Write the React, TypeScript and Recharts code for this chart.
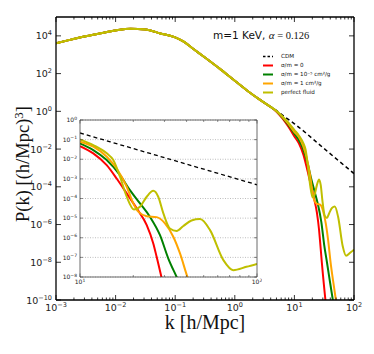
import { CartesianGrid, Legend, Line, LineChart, XAxis, YAxis } from "recharts";

// log10(k) / log10(P)
const sharedLogK = [-3, -2.75, -2.5, -2.25, -2, -1.75, -1.5, -1.25, -1, -0.85, -0.7, -0.5, -0.25, 0, 0.25, 0.4, 0.55];
const sharedLogP = [3.61, 3.8, 3.98, 4.14, 4.29, 4.38, 4.34, 4.13, 3.92, 3.68, 3.32, 2.85, 2.25, 1.62, 1.0, 0.66, 0.34];

const cdmLogK = [0.7, 0.85, 1, 1.5, 2];
const cdmLogP = [0.04, -0.32, -0.66, -1.98, -3.3];

const redLogK = [0.7, 0.8, 0.9, 1, 1.075, 1.151, 1.207, 1.264, 1.32, 1.377, 1.414, 1.433, 1.46, 1.54];
const redLogP = [-0.02, -0.38, -0.82, -1.33, -1.7, -2.3, -2.98, -3.74, -4.5, -5.36, -6.29, -6.97, -8, -10.6];

const greenLogK = [0.7, 0.8, 0.9, 1, 1.075, 1.151, 1.226, 1.282, 1.339, 1.395, 1.452, 1.499, 1.546, 1.6, 1.66];
const greenLogP = [0, -0.33, -0.72, -1.19, -1.53, -2.04, -2.81, -3.57, -4.25, -4.93, -5.87, -7.06, -8, -9.1, -10.3];

const orangeLogK = [0.7, 0.8, 0.9, 1, 1.075, 1.151, 1.207, 1.264, 1.301, 1.329, 1.377, 1.433, 1.48, 1.527, 1.565, 1.607, 1.65, 1.71];
const orangeLogP = [0.01, -0.3, -0.67, -1.1, -1.36, -1.87, -2.47, -3.4, -4.25, -4.67, -4.9, -4.95, -5.27, -5.95, -6.8, -8, -9, -10.3];

const fluidLogK = [0.7, 0.8, 0.9, 1, 1.075, 1.151, 1.188, 1.226, 1.264, 1.305, 1.339, 1.377, 1.414, 1.442, 1.471, 1.508, 1.546, 1.584, 1.63, 1.678, 1.734, 1.81, 1.866, 1.94, 2];
const fluidLogP = [0.02, -0.27, -0.6, -0.99, -1.28, -1.7, -2.04, -2.89, -3.91, -4.56, -4.42, -3.91, -3.61, -3.91, -4.76, -5.53, -5.65, -5.4, -5.12, -5.05, -5.6, -7.14, -7.65, -7.48, -7.33];

const xDecades = [1e-3, 1e-2, 1e-1, 1, 10, 100];
const minorMult = [2, 3, 4, 5, 6, 7, 8, 9];
const yMajor = [1e-10, 1e-8, 1e-6, 1e-4, 1e-2, 1, 1e2, 1e4];
const insetYTicks = [1e-8, 1e-7, 1e-6, 1e-5, 1e-4, 1e-3, 1e-2, 1e-1, 1];

const toPoints = (lk: number[], lp: number[]) => lk.map((v, i) => ({ k: 10 ** v, p: 10 ** lp[i] }));
const withShared = (lk: number[], lp: number[]) => [...toPoints(sharedLogK, sharedLogP), ...toPoints(lk, lp)];

const series = [
  { name: "CDM", color: "#000000", dash: "4 3", width: 1.5, data: withShared(cdmLogK, cdmLogP) },
  { name: "σ/m = 0", color: "#ff0000", width: 2, data: withShared(redLogK, redLogP) },
  { name: "σ/m = 10⁻⁵ cm²/g", color: "#008000", width: 2, data: withShared(greenLogK, greenLogP) },
  { name: "σ/m = 1 cm²/g", color: "#ffa500", width: 2, data: withShared(orangeLogK, orangeLogP) },
  { name: "perfect fluid", color: "#bfbf00", width: 2, data: withShared(fluidLogK, fluidLogP) },
];

const xTicks = [...xDecades, ...xDecades.slice(0, -1).flatMap((d) => minorMult.map((m) => d * m))];
const insetXTicks = [10, ...minorMult.map((m) => m * 10), 100];

const expOf = (v: number) => Math.log10(v);
const isDecade = (v: number) => Math.abs(expOf(v) - Math.round(expOf(v))) < 1e-6;
const expText = (v: number) => {
  const e = Math.round(expOf(v));
  return e < 0 ? `−${-e}` : `${e}`;
};

const FONT = "DejaVu Sans";

const BottomTick = ({ x, y, payload }: any) => {
  const major = isDecade(payload.value);
  return (
    <g>
      <line x1={x} x2={x} y1={y} y2={y - (major ? 5 : 2.5)} stroke="#000" strokeWidth={0.8} />
      {major && (
        <text x={x} y={y + 10.5} textAnchor="middle" fontSize={9.5} fontFamily={FONT} fill="#222">
          10<tspan dy={-4} fontSize={6.5}>{expText(payload.value)}</tspan>
        </text>
      )}
    </g>
  );
};

const TopTick = ({ x, y, payload }: any) => {
  const major = isDecade(payload.value);
  return <line x1={x} x2={x} y1={y} y2={y + (major ? 5 : 2.5)} stroke="#000" strokeWidth={0.8} />;
};

const LeftTick = ({ x, y, payload }: any) => (
  <g>
    <line x1={x} x2={x + 5} y1={y} y2={y} stroke="#000" strokeWidth={0.8} />
    <text x={x - 4} y={y + 3.5} textAnchor="end" fontSize={9.5} fontFamily={FONT} fill="#222">
      10<tspan dy={-4} fontSize={6.5}>{expText(payload.value)}</tspan>
    </text>
  </g>
);

const RightTick = ({ x, y }: any) => <line x1={x} x2={x - 5} y1={y} y2={y} stroke="#000" strokeWidth={0.8} />;

const InsetBottomTick = ({ x, y, payload }: any) => {
  const major = isDecade(payload.value);
  return (
    <g>
      <line x1={x} x2={x} y1={y} y2={y - (major ? 3.5 : 2)} stroke="#444" strokeWidth={0.6} />
      {major && (
        <text x={x} y={y + 7} textAnchor="middle" fontSize={6} fontFamily={FONT} fill="#222">
          10<tspan dy={-2.5} fontSize={4.5}>{expText(payload.value)}</tspan>
        </text>
      )}
    </g>
  );
};

const InsetTopTick = ({ x, y, payload }: any) => {
  const major = isDecade(payload.value);
  return <line x1={x} x2={x} y1={y} y2={y + (major ? 3.5 : 2)} stroke="#444" strokeWidth={0.6} />;
};

const InsetLeftTick = ({ x, y, payload }: any) => (
  <g>
    <line x1={x} x2={x + 3} y1={y} y2={y} stroke="#444" strokeWidth={0.6} />
    <text x={x - 3} y={y + 2.2} textAnchor="end" fontSize={6} fontFamily={FONT} fill="#222">
      10<tspan dy={-2.5} fontSize={4.5}>{expText(payload.value)}</tspan>
    </text>
  </g>
);

const InsetRightTick = ({ x, y }: any) => <line x1={x} x2={x - 3} y1={y} y2={y} stroke="#444" strokeWidth={0.6} />;

// legend rows in the figure's order (the library would sort them by name)
const LegendBox = () => (
  <div style={{ fontFamily: FONT, fontSize: 5.6, lineHeight: "9px", color: "#111" }}>
    {series.map((s) => (
      <div key={s.name} style={{ display: "flex", alignItems: "center", height: 9 }}>
        <svg width={18} height={9} style={{ flex: "none" }}>
          <line x1={0} x2={10} y1={4.5} y2={4.5} stroke={s.color} strokeWidth={s.dash ? 1.3 : 2} strokeDasharray={s.dash ? "2.5 2" : undefined} />
        </svg>
        <span style={{ whiteSpace: "nowrap" }}>{s.name}</span>
      </div>
    ))}
  </div>
);

const frame = { stroke: "#000", strokeWidth: 1.3 };
const insetFrame = { stroke: "#444", strokeWidth: 0.8 };
const noMargin = { top: 0, right: 0, bottom: 0, left: 0 };

export default function App() {
  const insetSeries = series.map((s) => ({ ...s, data: s.data.filter((d) => d.k >= 9.99) }));
  return (
    <div style={{ position: "absolute", left: 0, top: 0, width: 374, height: 354, background: "#fff" }}>
      <LineChart width={374} height={354} margin={noMargin}>
        <XAxis
          dataKey="k"
          type="number"
          scale="log"
          domain={[1e-3, 100]}
          allowDataOverflow
          ticks={xTicks}
          interval={0}
          height={54}
          tickSize={0}
          tickMargin={0}
          tickLine={false}
          axisLine={frame}
          tick={BottomTick}
        />
        <XAxis
          xAxisId="top"
          orientation="top"
          dataKey="k"
          type="number"
          scale="log"
          domain={[1e-3, 100]}
          allowDataOverflow
          ticks={xTicks}
          interval={0}
          height={17}
          tickSize={0}
          tickMargin={0}
          tickLine={false}
          axisLine={frame}
          tick={TopTick}
        />
        <YAxis
          type="number"
          scale="log"
          domain={[1e-10, 1e5]}
          allowDataOverflow
          ticks={yMajor}
          interval={0}
          width={56}
          tickSize={0}
          tickMargin={0}
          tickLine={false}
          axisLine={frame}
          tick={LeftTick}
        />
        <YAxis
          yAxisId="right"
          orientation="right"
          type="number"
          scale="log"
          domain={[1e-10, 1e5]}
          allowDataOverflow
          ticks={yMajor}
          interval={0}
          width={20}
          tickSize={0}
          tickMargin={0}
          tickLine={false}
          axisLine={frame}
          tick={RightTick}
        />
        {series.map((s) => (
          <Line
            key={s.name}
            name={s.name}
            data={s.data}
            dataKey="p"
            type="monotone"
            stroke={s.color}
            strokeWidth={s.width}
            strokeDasharray={s.dash}
            dot={false}
            activeDot={false}
            isAnimationActive={false}
          />
        ))}
        <Legend
          layout="horizontal"
          align="center"
          verticalAlign="middle"
          content={LegendBox}
          wrapperStyle={{ left: 263, top: 51.5, width: 100, height: 46 }}
        />
      </LineChart>

      <div style={{ position: "absolute", left: 60, top: 115 }}>
        <LineChart width={202} height={174} margin={noMargin}>
          <CartesianGrid vertical={false} stroke="#a0a0a0" strokeWidth={0.7} strokeDasharray="1 1.5" />
          <XAxis
            dataKey="k"
            type="number"
            scale="log"
            domain={[10, 100]}
            allowDataOverflow
            ticks={insetXTicks}
            interval={0}
            height={12}
            tickSize={0}
            tickMargin={0}
            tickLine={false}
            axisLine={insetFrame}
            tick={InsetBottomTick}
          />
          <XAxis
            xAxisId="top"
            orientation="top"
            dataKey="k"
            type="number"
            scale="log"
            domain={[10, 100]}
            allowDataOverflow
            ticks={insetXTicks}
            interval={0}
            height={5}
            tickSize={0}
            tickMargin={0}
            tickLine={false}
            axisLine={insetFrame}
            tick={InsetTopTick}
          />
          <YAxis
            type="number"
            scale="log"
            domain={[1e-8, 1]}
            allowDataOverflow
            ticks={insetYTicks}
            interval={0}
            width={20}
            tickSize={0}
            tickMargin={0}
            tickLine={false}
            axisLine={insetFrame}
            tick={InsetLeftTick}
          />
          <YAxis
            yAxisId="right"
            orientation="right"
            type="number"
            scale="log"
            domain={[1e-8, 1]}
            allowDataOverflow
            ticks={insetYTicks}
            interval={0}
            width={5}
            tickSize={0}
            tickMargin={0}
            tickLine={false}
            axisLine={insetFrame}
            tick={InsetRightTick}
          />
          {insetSeries.map((s) => (
            <Line
              key={s.name}
              name={s.name}
              data={s.data}
              dataKey="p"
              type="monotone"
              stroke={s.color}
              strokeWidth={s.dash ? 1.3 : 2}
              strokeDasharray={s.dash}
              dot={false}
              activeDot={false}
              legendType="none"
              isAnimationActive={false}
            />
          ))}
        </LineChart>
      </div>

      <svg width={374} height={354} style={{ position: "absolute", left: 0, top: 0, pointerEvents: "none" }}>
        <text x={213} y={38.5} fontFamily={FONT} fontSize={10.5} fill="#111">
          m=1 KeV,{" "}
          <tspan fontFamily="Liberation Serif" fontStyle="italic" fontSize={11}>α</tspan>
          <tspan fontFamily="Liberation Serif" fontSize={10.5}> = 0.126</tspan>
        </text>
        <text x={205} y={329} textAnchor="middle" fontFamily="Liberation Serif" fontSize={20} fill="#111">
          k [h/Mpc]
        </text>
        <text
          transform="translate(29,164) rotate(-90)"
          textAnchor="middle"
          fontFamily="Liberation Serif"
          fontSize={18.5}
          fill="#111"
        >
          P(k) [(h/Mpc)<tspan dy={-6.5} fontSize={13}>3</tspan>
          <tspan dy={6.5}>]</tspan>
        </text>
      </svg>
    </div>
  );
}
